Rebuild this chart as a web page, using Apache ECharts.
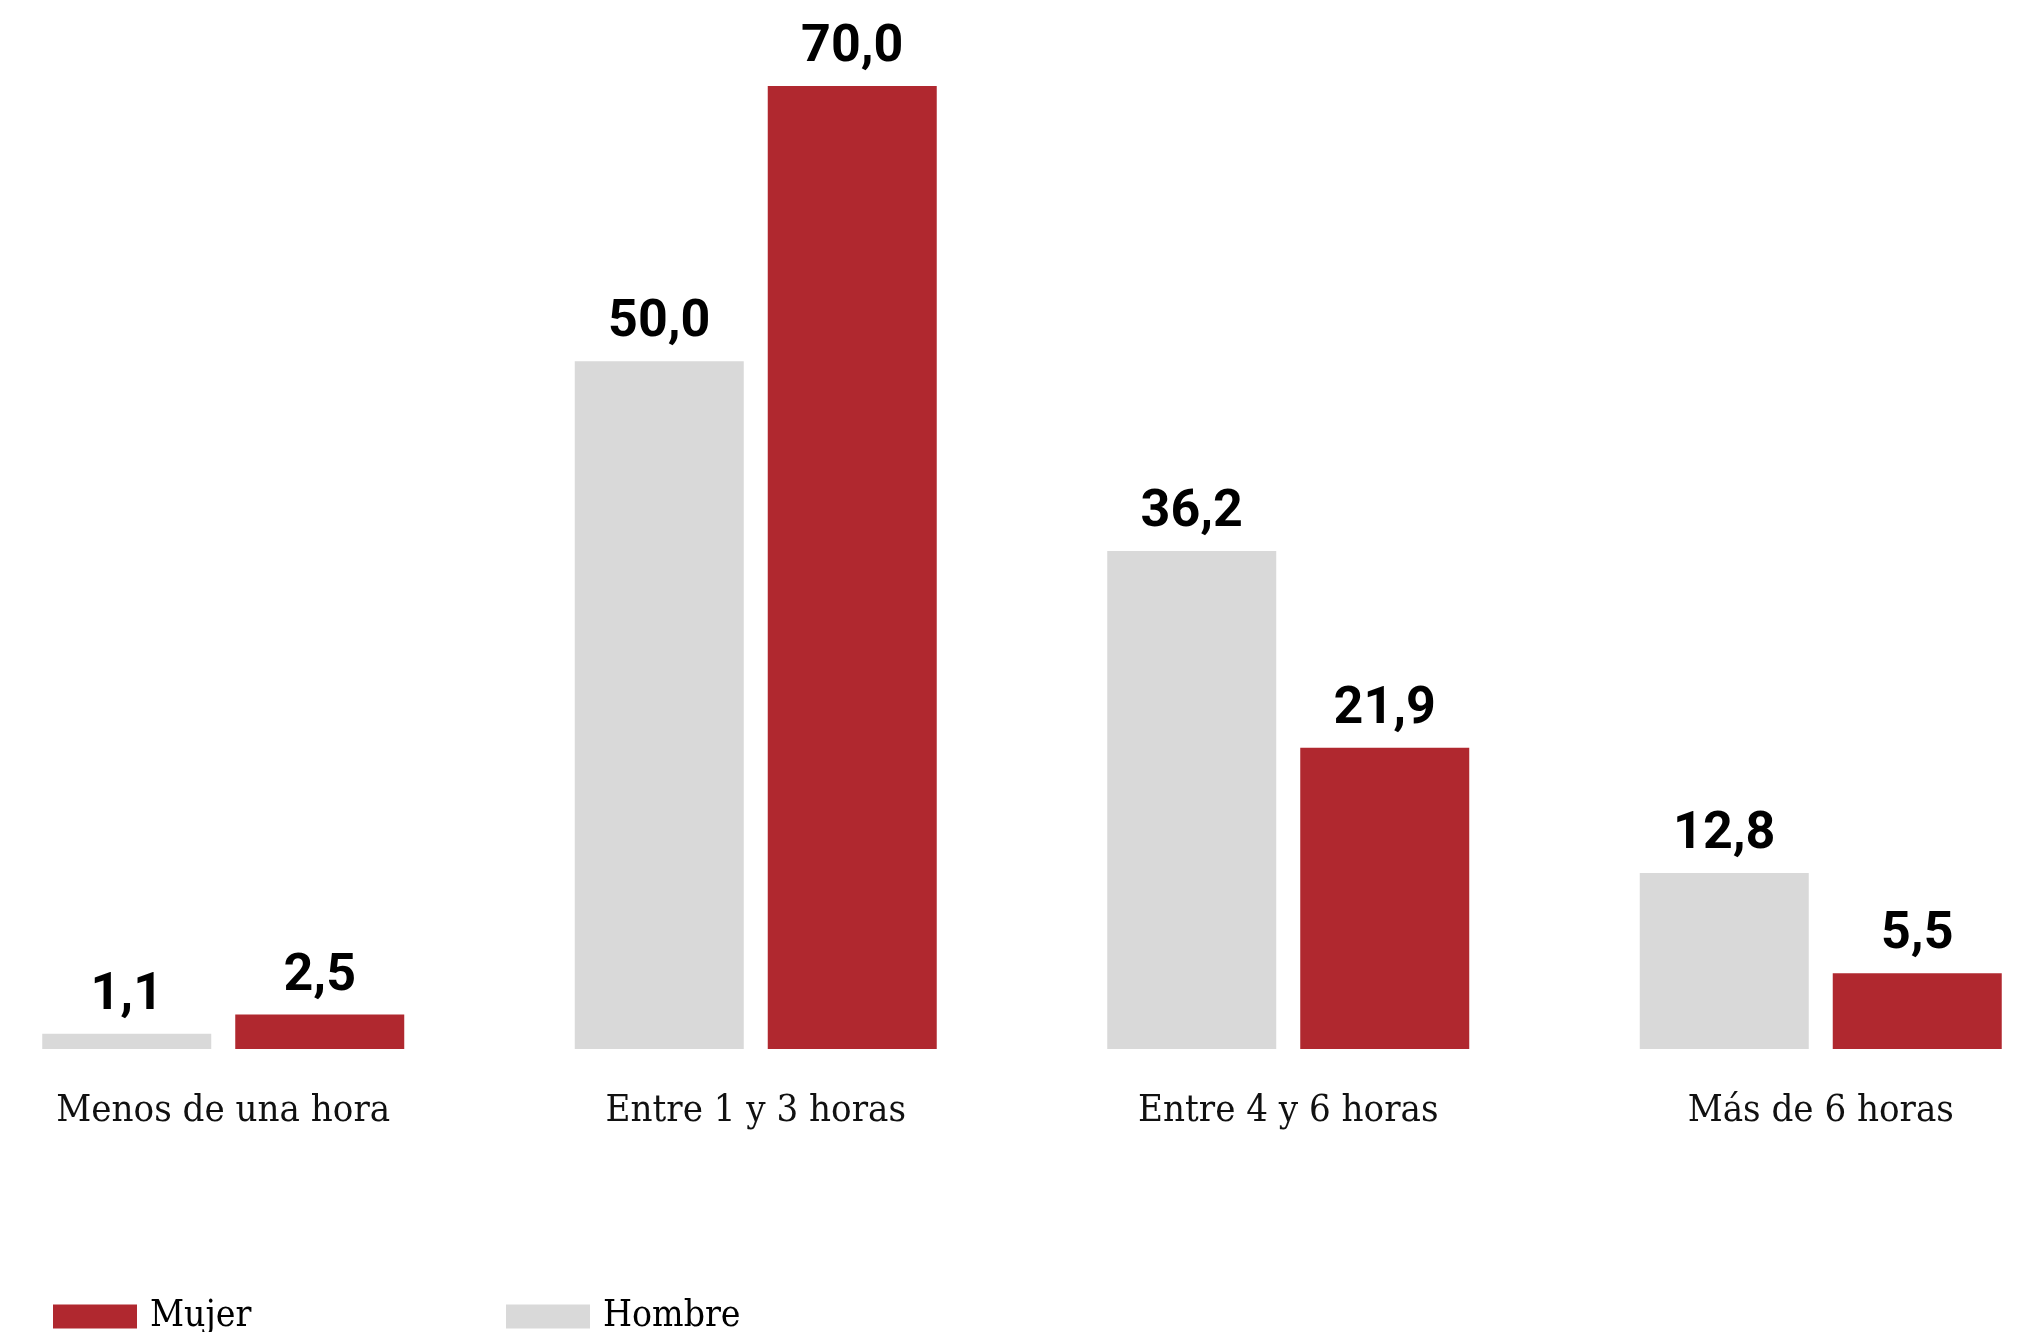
<!DOCTYPE html>
<html>
<head>
<meta charset="utf-8">
<script src="https://cdn.jsdelivr.net/npm/echarts@6/dist/echarts.min.js"></script>
<style>
html,body{margin:0;padding:0;background:#fff;}
#chart{width:2018px;height:1332px;}
</style>
</head>
<body>
<div id="chart"></div>
<script>
const categories = ['Menos de una hora', 'Entre 1 y 3 horas', 'Entre 4 y 6 horas', 'Más de 6 horas'];
const hombreValues = [1.1, 50.0, 36.2, 12.8];
const mujerValues = [2.5, 70.0, 21.9, 5.5];
const seriesNames = ['Hombre', 'Mujer'];

const RED = '#B0282F';
const GRAY = '#D9D9D9';
const serifFont = "'DejaVu Serif Condensed', 'DejaVu Serif', serif";

const chart = echarts.init(document.getElementById('chart'));
const valueLabel = {
  show: true,
  position: 'top',
  distance: 12,
  color: '#000',
  fontFamily: 'Roboto, sans-serif',
  fontWeight: 'bold',
  fontSize: 52,
  formatter: p => p.value.toFixed(1).replace('.', ',')
};
chart.setOption({
  animation: false,
  backgroundColor: '#fff',
  grid: { left: -43, width: 2130, top: 86, height: 963, outerBoundsMode: 'none' },
  legend: [
    {
      data: [seriesNames[1]], left: 53, top: 1298, padding: 0,
      itemWidth: 84, itemHeight: 24, icon: 'rect',
      textStyle: { fontFamily: serifFont, fontSize: 37, color: '#000', lineHeight: 24, padding: [0, 0, 0, 8] }
    },
    {
      data: [seriesNames[0]], left: 506, top: 1298, padding: 0,
      itemWidth: 84, itemHeight: 24, icon: 'rect',
      textStyle: { fontFamily: serifFont, fontSize: 37, color: '#000', lineHeight: 24, padding: [0, 0, 0, 8] }
    }
  ],
  xAxis: {
    type: 'category',
    data: categories,
    axisLine: { show: false },
    axisTick: { show: false },
    splitLine: { show: false },
    axisLabel: { margin: 42, fontFamily: serifFont, fontSize: 38, color: '#111', lineHeight: 40 }
  },
  yAxis: { type: 'value', min: 0, max: 70, show: false, splitLine: { show: false } },
  series: [
    {
      name: seriesNames[0], type: 'bar', data: hombreValues,
      barWidth: 169, barGap: '14.2%',
      itemStyle: { color: GRAY },
      label: valueLabel, clip: false
    },
    {
      name: seriesNames[1], type: 'bar', data: mujerValues,
      barWidth: 169, barGap: '14.2%',
      itemStyle: { color: RED },
      label: valueLabel, clip: false
    }
  ]
});
</script>
</body>
</html>
